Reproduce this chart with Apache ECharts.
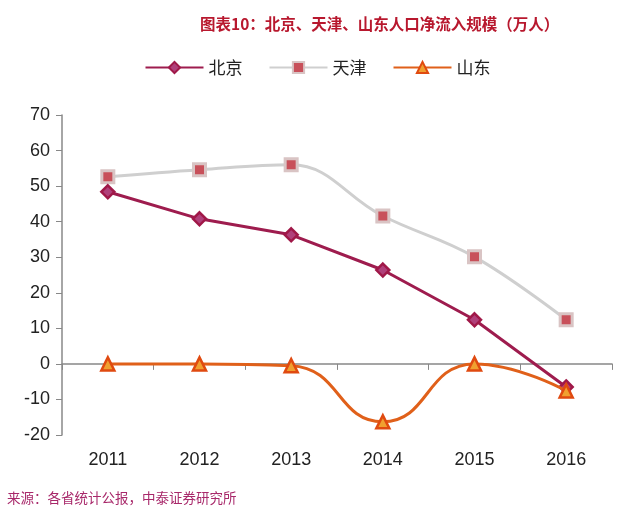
<!DOCTYPE html>
<html>
<head>
<meta charset="utf-8">
<script src="https://cdn.jsdelivr.net/npm/echarts@6/dist/echarts.min.js"></script>
<style>
html,body{margin:0;padding:0;background:#fff;}
#c{width:635px;height:506px;}
</style>
</head>
<body>
<div id="c"></div>
<script>
const categories = ['2011','2012','2013','2014','2015','2016'];
const beijing = [48.4, 40.8, 36.3, 26.4, 12.4, -6.5];
const tianjin = [52.6, 54.6, 56.0, 41.6, 30.1, 12.4];
const shandong = [0.0, 0.0, -0.5, -16.3, 0.0, -7.6];
const yTicks = {min: -20, max: 70, interval: 10};

const chart = echarts.init(document.getElementById('c'));
const labelFont = 'Liberation Sans, Arial, sans-serif';
chart.setOption({
  animation: false,
  title: [{
    text: '图表10：北京、天津、山东人口净流入规模（万人）',
    left: 195, top: 11,
    textStyle: {color: '#B8182E', fontSize: 15.5, fontWeight: 'bold', fontFamily: 'Noto Sans CJK SC'}
  }, {
    text: '来源：各省统计公报，中泰证券研究所',
    left: 2, top: 486,
    textStyle: {color: '#A8286A', fontSize: 13.5, fontWeight: 'normal', fontFamily: 'Noto Sans CJK SC'}
  }],
  legend: {
    top: 54, left: 'center',
    itemWidth: 58, itemHeight: 14, itemGap: 26,
    textStyle: {fontSize: 17, color: '#222', fontFamily: 'Noto Sans CJK SC'},
    data: ['北京', '天津', '山东']
  },
  grid: {left: 62, right: 23, top: 115, bottom: 71},
  xAxis: [{
    type: 'category', data: categories, position: 'bottom',
    axisLine: {show: false, onZero: false},
    axisTick: {show: false},
    axisLabel: {fontSize: 18, color: '#222', fontFamily: labelFont, margin: 16}
  }, {
    type: 'category', data: categories, position: 'bottom',
    axisLine: {show: true, onZero: true, lineStyle: {color: '#888', width: 1.5}},
    axisTick: {show: true, length: 6, lineStyle: {color: '#888'}},
    axisLabel: {show: false}
  }],
  yAxis: {
    type: 'value', min: yTicks.min, max: yTicks.max, interval: yTicks.interval,
    axisLine: {show: true, lineStyle: {color: '#888', width: 1.5}},
    axisTick: {show: true, length: 6, lineStyle: {color: '#888'}},
    splitLine: {show: false},
    axisLabel: {fontSize: 18, color: '#222', fontFamily: labelFont, margin: 12}
  },
  series: [{
    name: '北京', type: 'line', data: beijing, xAxisIndex: 0,
    symbol: 'diamond', symbolSize: 13,
    lineStyle: {color: '#9E1C4E', width: 3},
    itemStyle: {color: '#B0407A', borderColor: '#A01848', borderWidth: 2.5},
    z: 4
  }, {
    name: '天津', type: 'line', data: tianjin, xAxisIndex: 0, smooth: 0.4,
    symbol: 'rect', symbolSize: 12,
    lineStyle: {color: '#CFCFCF', width: 3},
    itemStyle: {color: '#C8505A', borderColor: '#D9C4C4', borderWidth: 3},
    z: 3
  }, {
    name: '山东', type: 'line', data: shandong, xAxisIndex: 0, smooth: 0.5,
    symbol: 'triangle', symbolSize: 13,
    lineStyle: {color: '#E0601A', width: 3},
    itemStyle: {color: '#F0A030', borderColor: '#E04A10', borderWidth: 2.5},
    z: 5
  }]
});
</script>
</body>
</html>
